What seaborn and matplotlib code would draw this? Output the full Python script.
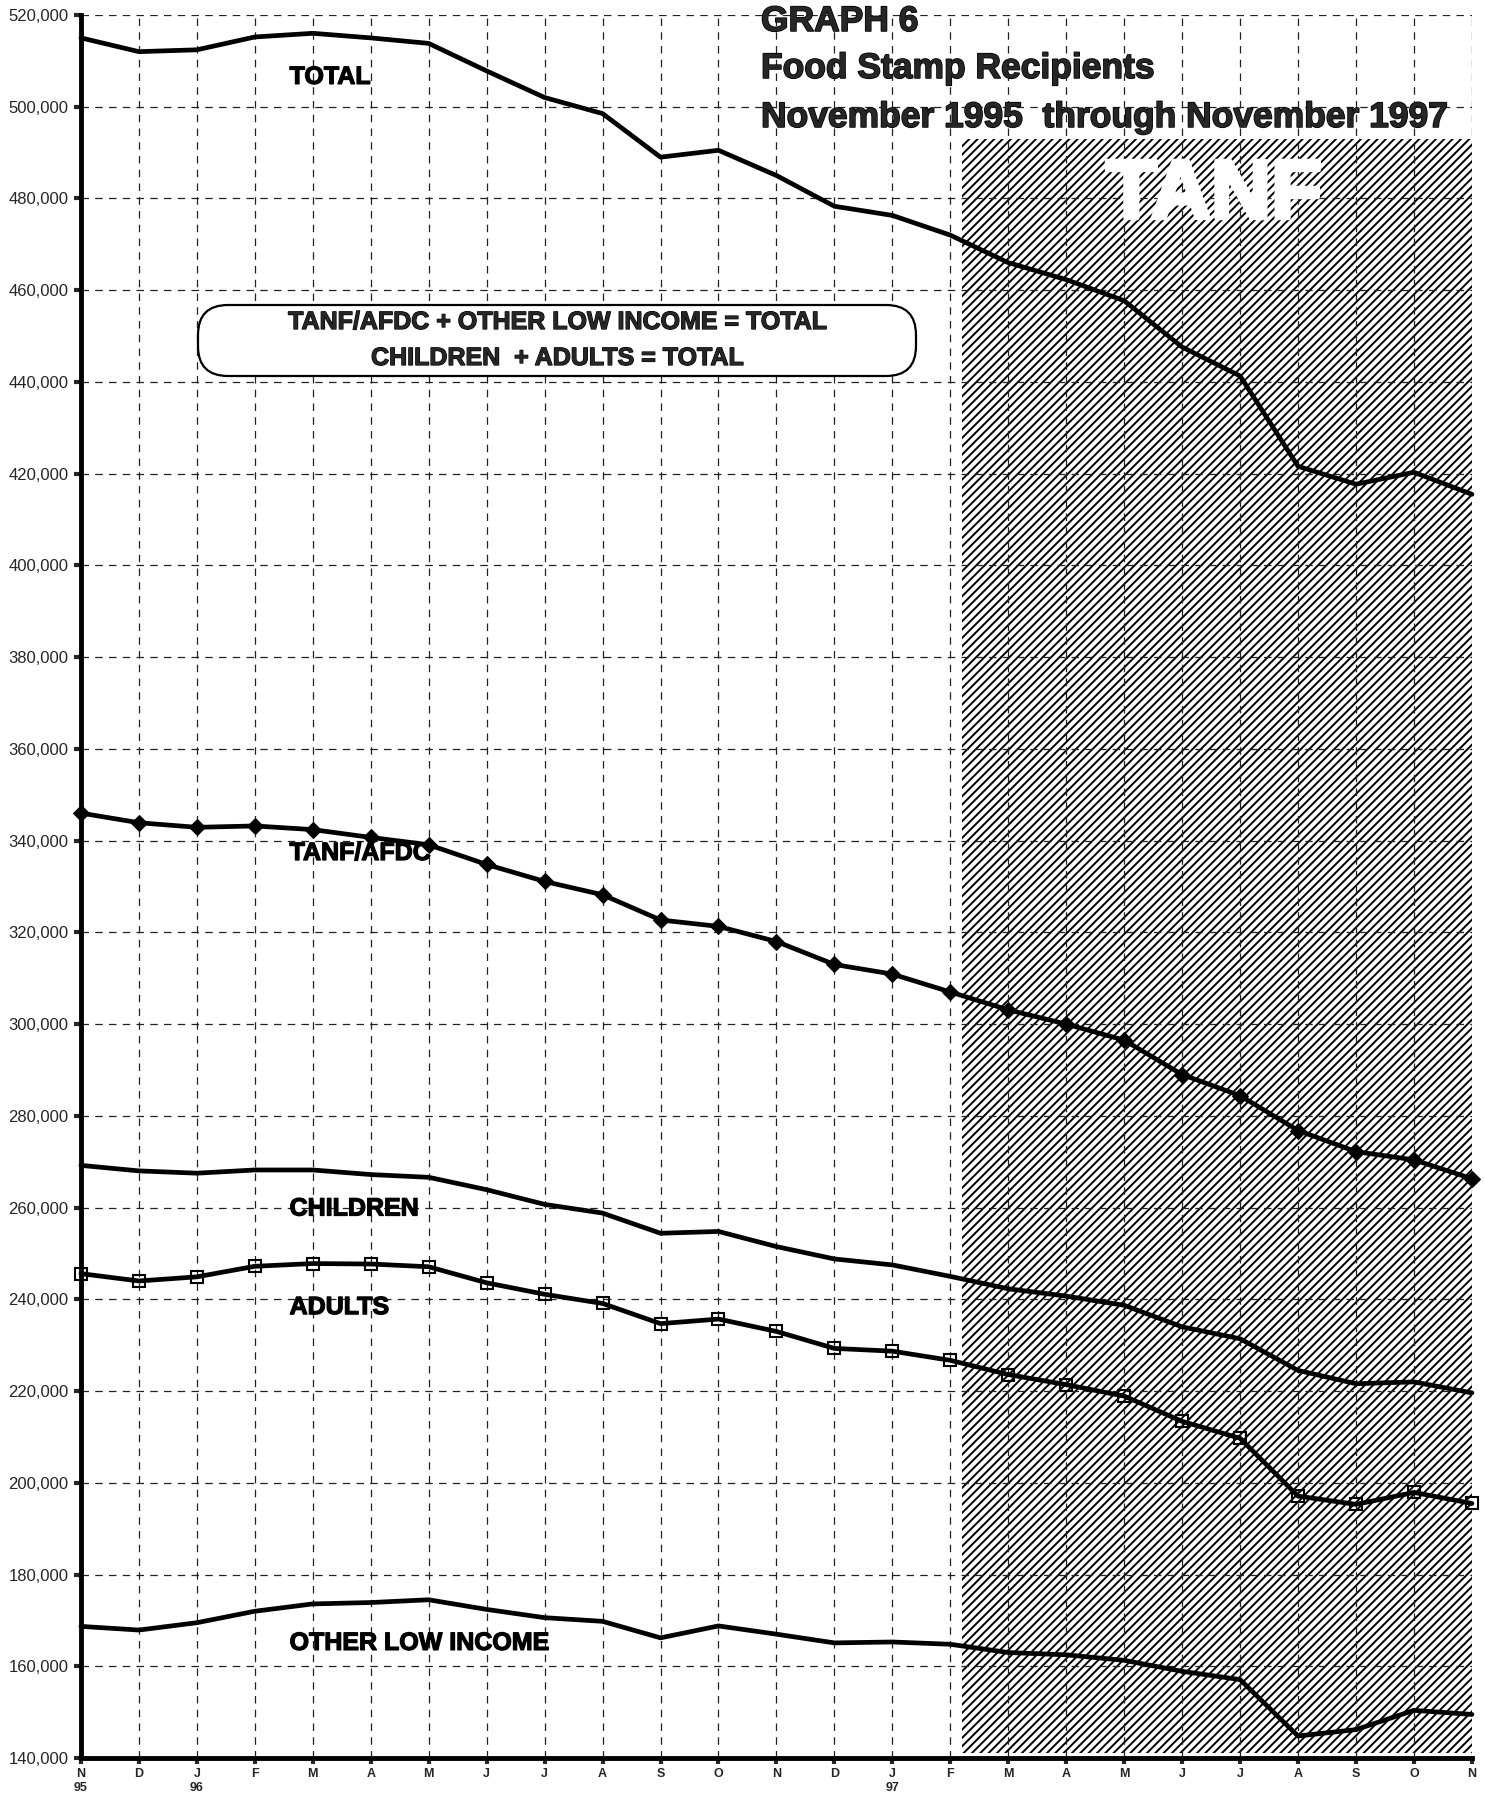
import numpy as np
import pandas as pd
import seaborn as sns
import matplotlib.pyplot as plt
import matplotlib.patheffects as pe
from matplotlib.patches import FancyBboxPatch
from matplotlib.ticker import FuncFormatter

# months Nov 1995 .. Nov 1997 (position on x axis)
months = list(range(25))
month_labels = ['N', 'D', 'J', 'F', 'M', 'A', 'M', 'J', 'J', 'A', 'S', 'O',
                'N', 'D', 'J', 'F', 'M', 'A', 'M', 'J', 'J', 'A', 'S', 'O', 'N']
year_labels = ['95', '', '96', '', '', '', '', '', '', '', '', '',
               '', '', '97', '', '', '', '', '', '', '', '', '', '']

# recipients (thousands)
total = [515.0, 512.0, 512.4, 515.2, 516.0, 515.0, 513.8, 507.8, 502.0, 498.5, 489.0, 490.5,
         485.0, 478.3, 476.3, 472.0, 466.0, 462.3, 457.7, 447.6, 441.3, 421.6, 417.7, 420.3, 415.5]
tanf_afdc = [346.0, 343.9, 342.9, 343.2, 342.4, 340.7, 339.1, 334.8, 331.1, 328.2, 322.7, 321.3,
             318.0, 313.0, 310.9, 307.0, 303.1, 300.0, 296.5, 289.0, 284.4, 276.8, 272.2, 270.4, 266.3]
children = [269.2, 268.0, 267.5, 268.2, 268.2, 267.2, 266.6, 263.9, 260.7, 258.8, 254.4, 254.8,
            251.5, 248.8, 247.5, 245.0, 242.3, 240.7, 238.7, 234.0, 231.4, 224.5, 221.6, 222.0, 219.6]
adults = [245.6, 244.0, 244.9, 247.2, 247.8, 247.7, 247.1, 243.6, 241.1, 239.1, 234.7, 235.7,
          233.0, 229.3, 228.7, 226.7, 223.6, 221.4, 218.9, 213.4, 209.7, 197.1, 195.3, 197.9, 195.5]
other_low_income = [168.7, 167.9, 169.5, 172.0, 173.6, 173.9, 174.5, 172.4, 170.6, 169.8, 166.2, 168.8,
                    167.0, 165.1, 165.3, 164.8, 163.0, 162.5, 161.3, 158.9, 157.1, 144.8, 146.2, 150.4, 149.5]

# TANF period shading (x from/to, top of shaded box)
tanf_start, tanf_end, tanf_top = 15.2, 24, 493000

dados = pd.DataFrame({'mes': months,
                      'total': np.array(total) * 1000,
                      'tanf': np.array(tanf_afdc) * 1000,
                      'children': np.array(children) * 1000,
                      'adults': np.array(adults) * 1000,
                      'other': np.array(other_low_income) * 1000})

sns.set_style("ticks")
plt.rcParams['font.family'] = ['Liberation Sans', 'DejaVu Sans']
plt.rcParams['hatch.linewidth'] = 1.4
plt.rcParams['hatch.color'] = 'black'

fig = plt.figure(figsize=(14.85, 18.02), dpi=100)
ax = fig.add_axes([0.0545, 0.0244, 0.9367, 0.9673])

# shaded TANF area
ax.fill_between([tanf_start, tanf_end], 141000, tanf_top, facecolor='white',
                edgecolor='black', hatch='////', linewidth=0, zorder=0.5)

lw = 3.4
sns.lineplot(data=dados, x='mes', y='total', ax=ax, color='black', lw=lw, clip_on=False)
sns.lineplot(data=dados, x='mes', y='tanf', ax=ax, color='black', lw=lw, marker='D',
             markersize=8, markeredgecolor='black', clip_on=False)
sns.lineplot(data=dados, x='mes', y='children', ax=ax, color='black', lw=lw, clip_on=False)
sns.lineplot(data=dados, x='mes', y='adults', ax=ax, color='black', lw=lw, marker='s',
             markersize=8, markerfacecolor='none', markeredgecolor='black',
             markeredgewidth=1.5, clip_on=False)
sns.lineplot(data=dados, x='mes', y='other', ax=ax, color='black', lw=lw, clip_on=False)

ax.set_xlim(0, 24)
ax.set_ylim(140000, 520000)
ax.set_xticks(months)
ax.set_xticklabels([m + '\n' + y for m, y in zip(month_labels, year_labels)],
                   fontsize=9, fontweight='bold', linespacing=1.3)
ax.set_yticks(np.arange(140000, 520001, 20000))
ax.yaxis.set_major_formatter(FuncFormatter(lambda v, p: f'{int(v):,}'))
ax.tick_params(axis='y', labelsize=12, length=5, width=3, direction='out', pad=4)
ax.tick_params(axis='x', length=4, width=3, direction='out', pad=3)
ax.set_xlabel('')
ax.set_ylabel('')

ax.grid(True, color='#222222', linestyle=(0, (6, 5)), linewidth=0.9)
ax.set_axisbelow('line')
for lado in ['top', 'right']:
    ax.spines[lado].set_visible(False)
for lado in ['left', 'bottom']:
    ax.spines[lado].set_linewidth(3.5)
    ax.spines[lado].set_color('black')

# heavier look for the bold lettering
grosso = [pe.withStroke(linewidth=0.9, foreground='black')]

# series names
rotulo = dict(fontsize=18, fontweight='bold', va='center', ha='left', color='black',
              path_effects=grosso)
ax.text(3.6, 506500, 'TOTAL', **rotulo)
ax.text(3.6, 337300, 'TANF/AFDC', **rotulo)
ax.text(3.6, 259800, 'CHILDREN', **rotulo)
ax.text(3.6, 238300, 'ADULTS', **rotulo)
ax.text(3.6, 165100, 'OTHER LOW INCOME', **rotulo)

ax.text(19.55, 480500, 'TANF', fontsize=60, fontweight='bold', color='white',
        ha='center', va='center', zorder=1.6,
        path_effects=[pe.withStroke(linewidth=3, foreground='white')])

# rounded note box
caixa = FancyBboxPatch((1.98, 14.26), 7.18, 0.71, boxstyle='round,pad=0,rounding_size=0.3',
                       transform=fig.dpi_scale_trans, facecolor='white', edgecolor='black',
                       linewidth=1.6, zorder=3)
fig.patches.append(caixa)
fig.text(5.57 / 14.85, 1 - 3.22 / 18.02, 'TANF/AFDC + OTHER LOW INCOME = TOTAL',
         fontsize=18, fontweight='bold', ha='center', va='center', zorder=4, path_effects=grosso)
fig.text(5.57 / 14.85, 1 - 3.58 / 18.02, 'CHILDREN  + ADULTS = TOTAL',
         fontsize=18, fontweight='bold', ha='center', va='center', zorder=4, path_effects=grosso)

# title block
titulo = dict(fontsize=25.5, fontweight='bold', ha='left', va='baseline',
              path_effects=[pe.withStroke(linewidth=1.1, foreground='black')])
fig.text(761 / 1485, 1 - 31 / 1802, 'GRAPH 6', **titulo)
fig.text(761 / 1485, 1 - 78 / 1802, 'Food Stamp Recipients', **titulo)
fig.text(761 / 1485, 1 - 127 / 1802, 'November 1995  through November 1997', **titulo)

fig.savefig('out.png', dpi=100)
